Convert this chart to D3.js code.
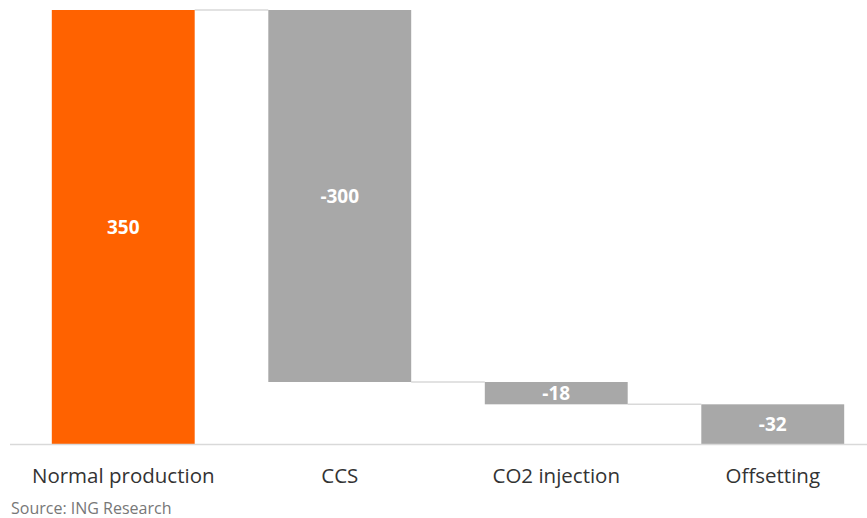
<!DOCTYPE html>
<html>
<head>
<meta charset="utf-8">
<script src="https://cdn.jsdelivr.net/npm/d3@7"></script>
<style>
  html, body { margin: 0; padding: 0; background: #fff; }
  svg { display: block; }
</style>
</head>
<body>
<svg id="chart" width="867" height="518"></svg>
<script>
// Waterfall: emissions from normal production down to net zero
const categories = ["Normal production", "CCS", "CO2 injection", "Offsetting"];
const values = [350, -300, -18, -32];
const valueLabels = ["350", "-300", "-18", "-32"];
const sourceText = "Source: ING Research";

const width = 867, height = 518;
const svg = d3.select("#chart");
const font = "'Open Sans', 'Noto Sans', sans-serif";

const x = d3.scaleBand()
  .domain(categories)
  .range([15, 881])
  .paddingInner(0.34)
  .paddingOuter(0.17);

const y = d3.scaleLinear()
  .domain([0, 350])
  .range([444, 10]);

// running totals for each step
let running = 0;
const steps = categories.map((c, i) => {
  const start = running;
  running += values[i];
  return { cat: c, start, end: running, value: values[i], label: valueLabels[i], first: i === 0 };
});

// connector lines between consecutive bars
svg.append("g").selectAll("line")
  .data(steps.slice(0, -1))
  .join("line")
  .attr("x1", (d) => x(d.cat) + x.bandwidth())
  .attr("x2", (d, i) => x(categories[i + 1]))
  .attr("y1", (d) => y(d.end))
  .attr("y2", (d) => y(d.end))
  .attr("stroke", "#d9d9d9")
  .attr("stroke-width", 1.5);

// bars
svg.append("g").selectAll("rect")
  .data(steps)
  .join("rect")
  .attr("x", (d) => x(d.cat))
  .attr("width", x.bandwidth())
  .attr("y", (d) => y(Math.max(d.start, d.end)))
  .attr("height", (d) => Math.abs(y(d.start) - y(d.end)))
  .attr("fill", (d) => d.first ? "#FF6200" : "#A8A8A8");

// value labels
svg.append("g").selectAll("text")
  .data(steps)
  .join("text")
  .attr("x", (d) => x(d.cat) + x.bandwidth() / 2)
  .attr("y", (d) => (y(d.start) + y(d.end)) / 2)
  .attr("dy", "0.36em")
  .attr("text-anchor", "middle")
  .attr("fill", "#fff")
  .attr("font-family", font)
  .attr("font-weight", "bold")
  .attr("font-size", 19)
  .text((d) => d.label);

// x axis
const axis = svg.append("g")
  .attr("transform", `translate(0,${y(0)})`)
  .call(d3.axisBottom(x).tickSize(0).tickPadding(24));
axis.select(".domain").remove();
axis.append("line")
  .attr("x1", 10).attr("x2", 867)
  .attr("y1", 0.5).attr("y2", 0.5)
  .attr("stroke", "#d9d9d9")
  .attr("stroke-width", 1.5);
axis.selectAll(".tick text")
  .attr("fill", "#333")
  .attr("font-family", font)
  .attr("font-size", 20.5);

// source note
svg.append("text")
  .attr("x", 11)
  .attr("y", 514)
  .attr("fill", "#777")
  .attr("font-family", font)
  .attr("font-size", 16)
  .text(sourceText);
</script>
</body>
</html>
